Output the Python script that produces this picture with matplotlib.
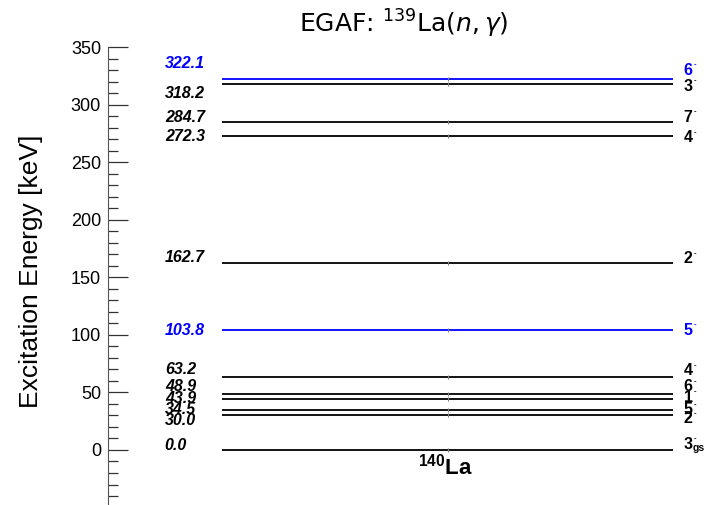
import matplotlib
matplotlib.use("Agg")
import matplotlib.pyplot as plt
from matplotlib.ticker import MultipleLocator

# level energies (keV), spins and colours
energies = [0.0, 30.0, 34.5, 43.9, 48.9, 63.2, 103.8, 162.7, 272.3, 284.7, 318.2, 322.1]
spins = ["3", "2", "5", "1", "6", "4", "5", "2", "4", "7", "3", "6"]
highlight = [322.1, 103.8]
# label y-positions after de-crowding (keV)
left_label_y = [4, 26, 35, 45, 55, 69.5, 104, 167, 272, 289, 310, 336]
right_label_y = [5, 27, 35, 46, 55, 69, 104, 166, 271, 289, 316, 330]

plt.rcParams["font.family"] = ["Liberation Sans", "DejaVu Sans"]
plt.rcParams["mathtext.fontset"] = "custom"
plt.rcParams["mathtext.rm"] = "Liberation Sans"
plt.rcParams["mathtext.bf"] = "Liberation Sans:bold"
plt.rcParams["mathtext.it"] = "Liberation Sans:italic"

fig = plt.figure(figsize=(7.06, 5.05), dpi=100)
ax = fig.add_axes([108 / 706, 0, 598 / 706, 458 / 505])
ax.set_xlim(0, 1)
ax.set_ylim(-47.8, 350)

x0, x1 = 0.191, 0.945
for e, s, ly, ry in zip(energies, spins, left_label_y, right_label_y):
    col = "blue" if e in highlight else "black"
    ax.plot([x0, x1], [e, e], color=col, lw=1.3, solid_capstyle="butt")
    ax.plot([(x0 + x1) / 2], [e], marker="|", ms=3, color="gray", mew=0.8)
    ax.text(0.095, ly, f"{e:.1f}", color=col, fontsize=11.5, fontweight="bold",
            fontstyle="italic", ha="left", va="center")
    ax.text(0.963, ry, s, color=col, fontsize=11.5, fontweight="bold",
            ha="left", va="center")
    # tiny parity sign, like the reference
    ax.text(0.979, ry + 4.5, "-", color=col, fontsize=5.5, fontweight="bold",
            ha="left", va="center")
    if e == 0.0:
        ax.text(0.978, ry - 3.5, "gs", color=col, fontsize=7.5, fontweight="bold",
                ha="left", va="center")

ax.text(0.565, -14, r"$^{\mathbf{140}}$La", fontsize=16, fontweight="bold",
        ha="center", va="center")

for sp in ["top", "right", "bottom"]:
    ax.spines[sp].set_visible(False)
ax.spines["left"].set_color("#555555")
ax.set_xticks([])
ax.yaxis.set_major_locator(MultipleLocator(50))
ax.yaxis.set_minor_locator(MultipleLocator(10))
ax.tick_params(axis="y", which="major", direction="in", length=14.4, width=0.9,
               color="#333333", labelsize=13, pad=5)
ax.tick_params(axis="y", which="minor", direction="in", length=7.2, width=0.9,
               color="#333333")
ax.set_yticks([0, 50, 100, 150, 200, 250, 300, 350])
ax.set_ylabel("Excitation Energy [keV]", fontsize=19)
ax.yaxis.set_label_coords(-0.108, 0.51)

fig.text(404 / 706, 1 - 24 / 505, r"EGAF: $^{139}$La$(n,\gamma)$", fontsize=18,
         ha="center", va="center", family="DejaVu Sans", math_fontfamily="dejavusans")

fig.savefig("out.png", dpi=100)
